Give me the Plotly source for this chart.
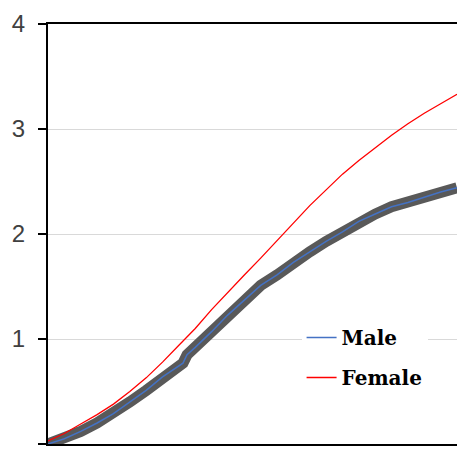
import plotly.graph_objects as go

# x positions (arbitrary 0-100 scale along horizontal axis)
x_vals = [0, 4, 8, 12, 16, 20, 24, 28, 32, 33, 34, 36, 40, 44, 48, 52, 56, 60,
          64, 68, 72, 76, 80, 84, 88, 92, 96, 100]

male_vals = [0.00, 0.05, 0.12, 0.20, 0.29, 0.40, 0.51, 0.64, 0.75, 0.77, 0.85,
             0.92, 1.07, 1.23, 1.37, 1.51, 1.61, 1.73, 1.83, 1.93, 2.02, 2.12,
             2.19, 2.26, 2.30, 2.35, 2.40, 2.44]

female_vals = [0.03, 0.10, 0.19, 0.28, 0.38, 0.50, 0.63, 0.78, 0.94, 0.98, 1.02,
               1.10, 1.28, 1.45, 1.61, 1.77, 1.94, 2.10, 2.27, 2.42, 2.57, 2.70,
               2.82, 2.94, 3.05, 3.15, 3.24, 3.33]

y_ticks = [0, 1, 2, 3, 4]
series_names = ["Male", "Female"]

fig = go.Figure()

# Male error band (thick gray)
fig.add_trace(go.Scatter(x=x_vals, y=male_vals, mode="lines",
                         legendgroup="m",
                         line=dict(color="#595959", width=11),
                         showlegend=False, hoverinfo="skip"))
fig.add_trace(go.Scatter(x=x_vals, y=male_vals, mode="lines",
                         name=series_names[0], legendgroup="m",
                         line=dict(color="#4472c4", width=1.5)))
fig.add_trace(go.Scatter(x=x_vals, y=female_vals, mode="lines",
                         name=series_names[1], legendgroup="f",
                         line=dict(color="#ff0000", width=1.3)))

fig.update_layout(
    width=457, height=450,
    margin=dict(l=48, r=0, t=24, b=6, autoexpand=False),
    paper_bgcolor="white", plot_bgcolor="white",
    showlegend=True,
    legend=dict(x=0.62, y=0.30, xanchor="left", yanchor="top",
                bgcolor="white", borderwidth=0,
                traceorder="grouped", tracegroupgap=11,
                font=dict(family="DejaVu Serif", size=20, color="#000000",
                          weight="bold"),
                itemwidth=30),
    xaxis=dict(range=[0, 100], showgrid=False, zeroline=False,
               showticklabels=False, ticks="", automargin=False,
               showline=True, linecolor="#000000", linewidth=2, mirror=True),
    yaxis=dict(range=[0, 4], tickvals=y_ticks, showgrid=True, automargin=False,
               gridcolor="#d9d9d9", gridwidth=1, zeroline=False,
               showline=True, linecolor="#000000", linewidth=2,
               ticks="outside", ticklen=8, tickwidth=2, tickcolor="#000000",
               ticklabelstandoff=8,
               tickfont=dict(family="Liberation Sans", size=24, color="#404040")),
)

fig.write_html(
    "out.html",
    config={"displayModeBar": False},
    post_script="document.body.style.margin='0px';document.body.style.overflow='hidden';",
)
